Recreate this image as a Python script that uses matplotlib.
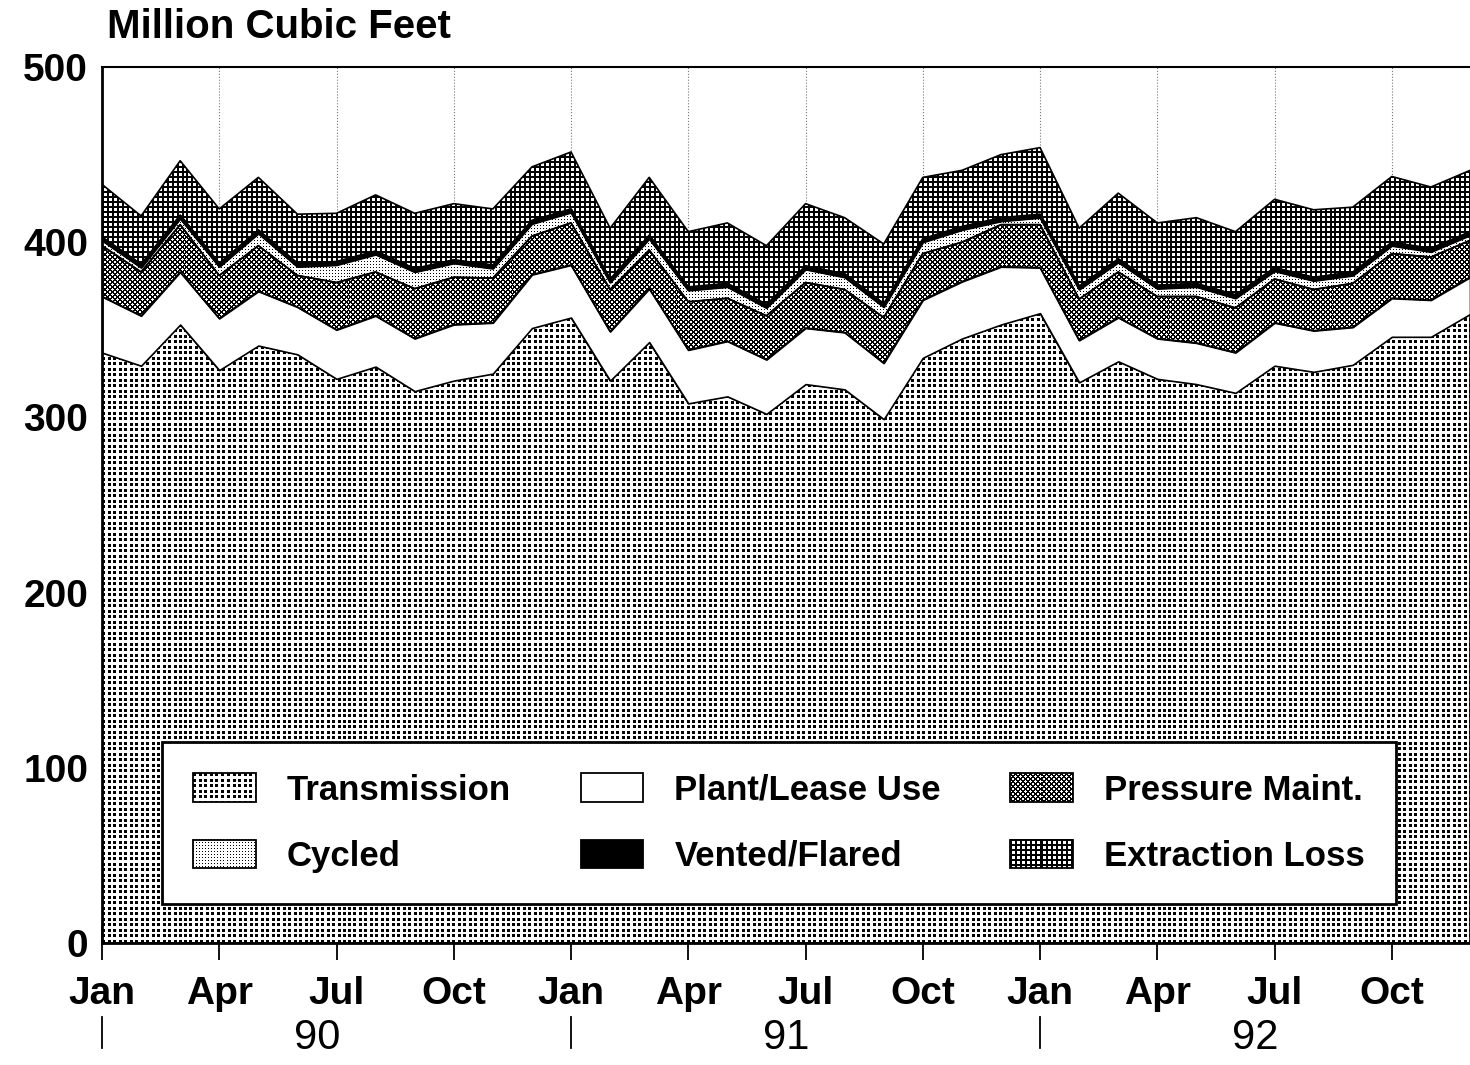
import numpy as np
import matplotlib
matplotlib.use('Agg')
import matplotlib.pyplot as plt
import matplotlib.transforms as mtransforms
from matplotlib.colors import Normalize
from matplotlib.image import BboxImage
from matplotlib.legend_handler import HandlerBase
from matplotlib.patches import Rectangle

plt.rcParams['font.family'] = ['Liberation Sans', 'DejaVu Sans']
plt.rcParams['font.weight'] = 'bold'

# monthly values, Jan 1990 - Dec 1992 (million cubic feet)
months = np.arange(36)
transmission = [337, 329.5, 353, 327, 341, 336, 322, 329, 315, 321, 325, 351,
                357, 321, 343, 308, 312, 302, 319, 316, 299, 334, 345, 353,
                359.5, 320, 332, 322, 319, 314, 329.5, 326, 330, 346, 346, 359]
plant_lease = [32, 28.5, 30, 29.5, 31, 27, 28, 29, 30, 32, 29, 30.5,
               30, 28, 30.5, 30.5, 31.5, 31, 32, 32.5, 32, 33, 32.5, 33,
               26, 24, 25, 23, 23.5, 23, 24.5, 23.5, 21.5, 22, 21, 21]
pressure = [29, 25, 27, 24.5, 26, 18, 27, 25, 28.5, 27, 25.5, 22,
            24, 24, 22, 27.5, 24.5, 25, 26, 24.5, 26, 26.5, 22.5, 24,
            24.5, 23.5, 26, 24, 26.5, 25.5, 25, 23.5, 25, 25.5, 24.5, 21]
cycled = [3, 2.5, 3.5, 5, 7, 5, 10, 10, 9.5, 8, 5.5, 7,
          6, 4, 6.5, 6.5, 6.5, 4.5, 7.5, 7, 6, 6.5, 7, 2,
          4, 5.5, 5.5, 4.5, 5.5, 5.5, 4.5, 5, 4.5, 4.5, 3, 3]
vented = [2] * 36
extraction = [30, 27.5, 31, 31, 30, 28, 27.5, 32, 31.5, 32, 32, 30.5,
              32.5, 29, 33, 31.5, 34.5, 33.5, 35.5, 32, 34, 35, 32, 36,
              38, 33, 37.5, 35.5, 37.5, 36, 39, 38.5, 37, 37.5, 35, 35]

month_labels = ['Jan', 'Apr', 'Jul', 'Oct'] * 3
years = ['90', '91', '92']


# black/white fill textures like the printed screens (True = black pixel)
def tex_transmission(r, c):
    return ((r % 5.5) < 3) & ((c % 5.5) < 3)

def tex_pressure(r, c):
    return ((r + c) % 5 < 2) | ((r - c) % 5 < 2)

def tex_cycled(r, c):
    return (r % 3 == 0) & (c % 3 == 0)

def tex_extraction(r, c):
    return (r % 5 < 2) | (c % 5 < 2)

def tex_image(fn, h, w):
    r, c = np.mgrid[0:h, 0:w]
    return np.where(fn(r, c), 0.0, 1.0)


class HandlerTexture(HandlerBase):
    def __init__(self, fn, facecolor='white'):
        super().__init__()
        self.fn = fn
        self.fc = facecolor

    def create_artists(self, legend, orig_handle, xdescent, ydescent, width,
                       height, fontsize, trans):
        arts = []
        if self.fn is not None:
            bb = mtransforms.TransformedBbox(
                mtransforms.Bbox.from_bounds(-xdescent, -ydescent, width, height), trans)
            dpi = legend.get_figure(root=True).dpi
            img = BboxImage(bb, cmap='gray', norm=Normalize(0, 1),
                            interpolation='nearest')
            img.set_data(tex_image(self.fn, max(int(round(height * dpi / 72)), 2),
                                   max(int(round(width * dpi / 72)), 2)))
            arts.append(img)
        rect = Rectangle((-xdescent, -ydescent), width, height,
                         facecolor='none' if self.fn is not None else self.fc,
                         edgecolor='black', linewidth=1.3, transform=trans)
        arts.append(rect)
        return arts


fig = plt.figure(figsize=(14.7, 10.65), dpi=100)
ax_w, ax_h = 1368, 876
ax = fig.add_axes([102 / 1470, 122 / 1065, ax_w / 1470, ax_h / 1065])
xmax = 34.8
# texture image reaches past the right edge so the clip never leaves a gap
img_xmax = 35.5
img_w = int(round(ax_w * img_xmax / xmax))

layers = [
    ('Transmission', transmission, tex_transmission, 'white'),
    ('Plant/Lease Use', plant_lease, None, 'white'),
    ('Pressure Maint.', pressure, tex_pressure, 'white'),
    ('Cycled', cycled, tex_cycled, 'white'),
    ('Vented/Flared', vented, None, 'black'),
    ('Extraction Loss', extraction, tex_extraction, 'white'),
]

handles = {}
handler_map = {}
base = np.zeros(36)
for name, vals, fn, fc in layers:
    top = base + np.array(vals)
    poly = ax.fill_between(months, base, top, facecolor=fc if fn is None else 'none',
                           edgecolor='black', linewidth=1.2, zorder=1.5)
    if fn is not None:
        im = ax.imshow(tex_image(fn, ax_h, img_w), cmap='gray', norm=Normalize(0, 1),
                       extent=(0, img_xmax, 0, 500), origin='lower', aspect='auto',
                       interpolation='nearest', zorder=1)
        im.set_clip_path(poly.get_paths()[0], transform=ax.transData)
    handles[name] = poly
    handler_map[poly] = HandlerTexture(fn, fc)
    base = top

ax.set_xlim(0, xmax)
ax.set_ylim(0, 500)

ax.set_xticks(np.arange(0, 36, 3))
ax.set_xticklabels(month_labels)
ax.set_xticks(months, minor=True)
ax.set_yticks(np.arange(0, 501, 100))

ax.tick_params(axis='x', which='major', direction='inout', length=24, width=1.3,
               pad=12, labelsize=28)
ax.tick_params(axis='x', which='minor', direction='in', length=7, width=1)
ax.tick_params(axis='y', which='major', direction='in', length=12, width=1.3,
               pad=10, labelsize=28)

ax.set_axisbelow(True)
ax.grid(axis='x', which='major', linestyle=':', color='#777777', linewidth=0.8)

ax.spines['right'].set_visible(False)
ax.spines['left'].set_linewidth(2)
ax.spines['bottom'].set_linewidth(2)
ax.spines['top'].set_linewidth(1.5)

# year labels and separators under the month labels
trans = mtransforms.blended_transform_factory(ax.transData, ax.transAxes)
for i, yr in enumerate(years):
    ax.text(12 * i + 5.5, -0.108, yr, transform=trans, ha='center', va='center',
            fontsize=30, fontweight='normal')
    ax.plot([12 * i, 12 * i], [-0.085, -0.12], transform=trans, color='black',
            linewidth=1.3, clip_on=False)

fig.text(107 / 1470, 1 - 27 / 1065, 'Million Cubic Feet', ha='left', va='center',
         fontsize=29, fontweight='bold')

order = ['Transmission', 'Cycled', 'Plant/Lease Use', 'Vented/Flared',
         'Pressure Maint.', 'Extraction Loss']


def make_legend(textured):
    kw = dict(ncol=3, loc='upper left', bbox_to_anchor=(0.0439, 0.2295),
              prop={'size': 25, 'weight': 'bold'}, handlelength=1.8,
              handleheight=0.9, handletextpad=0.9, labelspacing=0.95,
              borderpad=0.9, columnspacing=2.0, fancybox=False,
              edgecolor='black', framealpha=1, borderaxespad=0)
    if textured:
        kw['handler_map'] = handler_map
    lg = ax.legend([handles[k] for k in order], order, **kw)
    lg.get_frame().set_linewidth(2)
    lg.set_zorder(5)
    return lg


leg = make_legend(True)
try:
    fig.savefig('out.png', dpi=100)
except Exception:
    leg.remove()
    make_legend(False)
    fig.savefig('out.png', dpi=100)
